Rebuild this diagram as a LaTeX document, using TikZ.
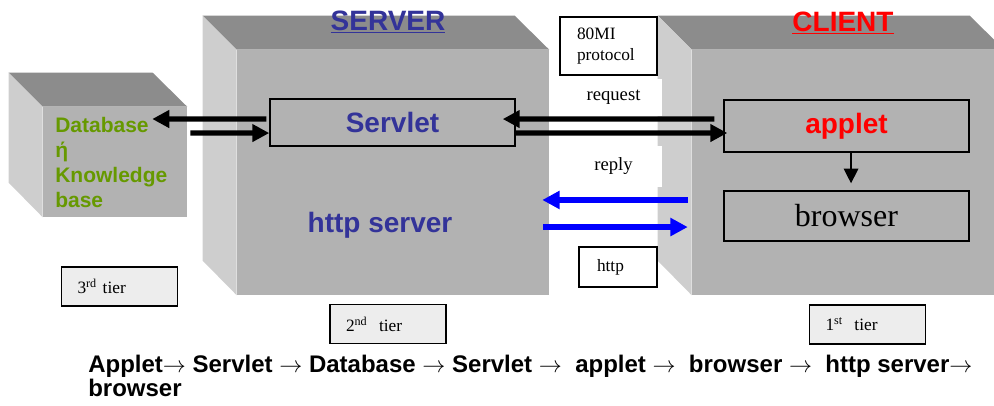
\documentclass[tikz,border=0pt]{standalone}
\usepackage{fontspec}
\setmainfont{Liberation Serif}
\setsansfont{Liberation Sans}
\usetikzlibrary{arrows.meta}

\definecolor{facegray}{HTML}{B2B2B2}
\definecolor{topgray}{HTML}{8C8C8C}
\definecolor{sidegray}{HTML}{CECECE}
\definecolor{tiergray}{HTML}{EDEDED}
\definecolor{srvblue}{HTML}{333399}
\definecolor{dbgreen}{HTML}{669900}

\begin{document}
\begin{tikzpicture}[x=0.75pt, y=-0.75pt,
 face/.style={rectangle, fill=facegray, inner sep=0pt},
 topface/.style={fill=topgray},
 sideface/.style={fill=sidegray},
 inbox/.style={rectangle, draw, line width=1.1pt, minimum width=183.75pt, inner sep=0pt},
 lbl/.style={rectangle, draw, line width=1.1pt, fill=white, font=\fontsize{13}{15.75}\selectfont, align=left},
 tier/.style={rectangle, draw, line width=1.1pt, fill=tiergray, font=\fontsize{13}{15.75}\selectfont, minimum height=29.25pt, inner xsep=12pt, text width=63pt, align=left},
 msg/.style={rectangle, fill=white, minimum width=72.75pt, font=\fontsize{14}{16}\selectfont},
 bigbold/.style={font=\fontsize{21}{25}\selectfont\sffamily\bfseries},
 arr/.style={-{Triangle[length=12.75pt, width=12.75pt]}, line width=3.9pt},
 barr/.style={-{Triangle[length=13pt, width=13pt]}, line width=4pt, blue},
 thinarr/.style={-{Triangle[length=11pt, width=11pt]}, line width=0.9pt},
]
\useasboundingbox (0,0) rectangle (994,405);
\node[face, minimum width=108pt, minimum height=82.5pt] (dbface) at (115,162) {};
\node[face, minimum width=234pt, minimum height=183.75pt] (serverface) at (393,172.5) {};
\node[face, minimum width=234pt, minimum height=183.75pt] (clientface) at (848,172.5) {};
\foreach \f/\w/\h in {dbface/144/110, serverface/312/245, clientface/312/245} {
  \fill[topface] (\f.north west) -- ++(-34,-34) -- ++(\w,0) -- (\f.north east) -- cycle;
  \fill[sideface] (\f.north west) -- ++(-34,-34) -- ++(0,\h) -- (\f.south west) -- cycle;
}
\node[anchor=north west, inner sep=0pt, align=left, text=dbgreen,
 font=\fontsize{15.75}{18.75}\selectfont\sffamily\bfseries] (dbtext) at (55,117)
 {Database\\ή\\Knowledge\\base};
\node[bigbold, text=srvblue, anchor=base] (servertitle) at (388,30) {\underline{SERVER}};
\node[bigbold, text=red, anchor=base] (clienttitle) at (843,31) {\underline{CLIENT}};
\node[inbox, minimum height=35.25pt, bigbold, text=srvblue] (servlet) at (392.5,122.5) {Servlet};
\node[bigbold, text=srvblue, anchor=base] (httpserver) at (380,232) {http server};
\node[inbox, minimum height=39pt, bigbold, text=red] (applet) at (846.5,126) {applet};
\node[inbox, minimum height=37.5pt, font=\fontsize{24}{28}\selectfont] (browser) at (846.5,216) {browser};
\node[lbl, minimum height=43.5pt, inner xsep=12.75pt, text width=47.25pt] (protocol) at (608.5,46) {80MI\\protocol};
\node[lbl, minimum height=30pt, inner xsep=13.5pt, text width=31.5pt] (http) at (618,267) {http};
\node[msg, minimum height=27.75pt] (request) at (613.5,97.5) {request};
\node[msg, minimum height=30.75pt] (reply) at (613.5,166.5) {reply};
\node[tier] (tier3) at (119.5,286.5) {3\textsuperscript{rd} tier};
\node[tier] (tier2) at (388,324) {2\textsuperscript{nd}~ tier};
\node[tier] (tier1) at (867.5,324.5) {1\textsuperscript{st}~ tier};
\draw[arr] ([xshift=-2.25pt, yshift=2.6pt]servlet.west) -- ([xshift=-26.25pt, yshift=32.25pt]dbface.east);
\draw[arr] ([xshift=2.25pt, yshift=21.75pt]dbface.east) -- ([yshift=-7.9pt]servlet.west);
\draw[arr] ([xshift=-6.75pt, yshift=5.25pt]applet.west) -- ([xshift=-9.75pt, yshift=2.6pt]servlet.east);
\draw[arr] ([yshift=-7.9pt]servlet.east) -- ([xshift=3pt, yshift=-5.25pt]applet.west);
\draw[barr] ([xshift=-3pt, yshift=-20.6pt]clientface.west) -- ([xshift=-5.25pt, yshift=-20.6pt]serverface.east);
\draw[barr] ([xshift=-4.5pt, yshift=-40.9pt]serverface.east) -- ([xshift=-3pt, yshift=-40.9pt]clientface.west);
\draw[thinarr] ([xshift=3.4pt]applet.south) -- ([xshift=3.4pt, yshift=5.25pt]browser.north);
\node[anchor=north west, inner sep=0pt, align=left,
 font=\fontsize{18}{18.2}\selectfont\sffamily\bfseries] (chain) at (88,355)
 {Applet$\rightarrow$ Servlet $\rightarrow$ Database $\rightarrow$ Servlet $\rightarrow$\ \ applet $\rightarrow$\ \ browser $\rightarrow$\ \ http server$\rightarrow$\\browser};
\end{tikzpicture}
\end{document}
